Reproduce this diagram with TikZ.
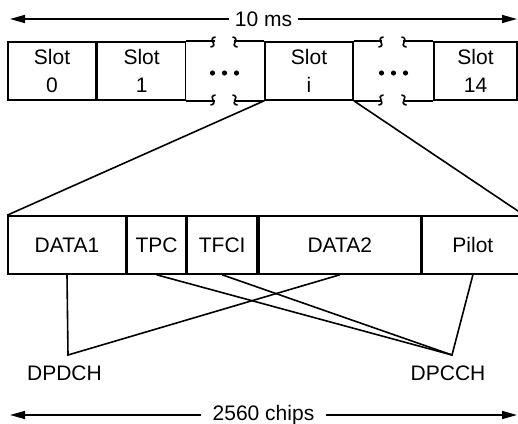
\documentclass[tikz,border=0pt]{standalone}
\usepackage{fontspec}
\setmainfont{Liberation Sans}
\usetikzlibrary{positioning,arrows.meta,calc}

\tikzset{
  slotbox/.style={draw,inner sep=0pt,minimum height=29pt,align=center,font=\fontsize{10.5}{14}\selectfont},
  fieldbox/.style={draw,inner sep=0pt,minimum height=29pt},
  span/.style={{Triangle[length=7.5pt,width=4pt]}-{Triangle[length=7.5pt,width=4pt]}},
  brkL/.pic={\draw (2.5,-5) .. controls (-1.5,-5) and (-1.5,-1) .. (0,0) .. controls (1.5,1) and (1.5,5) .. (-2.5,5);},
  brkR/.pic={\draw (-2.5,-5) .. controls (1.5,-5) and (1.5,-1) .. (0,0) .. controls (-1.5,1) and (-1.5,5) .. (2.5,5);}
}

\begin{document}
\begin{tikzpicture}[x=.5pt,y=-.5pt,line width=.8pt,every node/.style={font=\fontsize{10.5}{12}\selectfont}]
    \useasboundingbox (0,0) rectangle (518,423);
    % frame of slots
    \node[slotbox,minimum width=44pt] (s0) at (52,71) {Slot\\0};
    \node[slotbox,minimum width=44pt,right=0pt of s0] (s1) {Slot\\1};
    \node[slotbox,minimum width=44pt] (si) at (309,71) {Slot\\i};
    \node[slotbox,minimum width=41.5pt] (s14) at (475.5,71) {Slot\\14};
    \draw (s1.north east) -- +(29,0); \draw (si.north west) -- +(-30,0);
    \draw (s1.south east) -- +(29,0); \draw (si.south west) -- +(-30,0);
    \draw (si.north east) -- +(28,0); \draw (s14.north west) -- +(-30,0);
    \draw (si.south east) -- +(28,0); \draw (s14.south west) -- +(-30,0);
    \foreach \x in {213,381}{\foreach \y in {42,100}{\pic at (\x,\y) {brkL};}}
    \foreach \x in {235,404}{\foreach \y in {42,100}{\pic at (\x,\y) {brkR};}}
    \foreach \cx in {224.5,393.5}{\foreach \dx in {-12,0,12}{\fill (\cx+\dx,73) circle (1.3pt);}}
    % fields of one slot
    \node[fieldbox,minimum width=59pt] (d1) at (67,245) {DATA1};
    \node[fieldbox,minimum width=29pt,right=0pt of d1] (tpc) {TPC};
    \node[fieldbox,minimum width=35pt,right=0pt of tpc] (tfci) {TFCI};
    \node[fieldbox,minimum width=81pt,right=0pt of tfci] (d2) {DATA2};
    \node[fieldbox,minimum width=50.5pt,right=0pt of d2] (pil) {Pilot};
    \draw (si.south west) -- (d1.north west);
    \draw (si.south east) -- (pil.north east);
    % channels
    \coordinate (dpd) at (68,355); \coordinate (dpc) at (452,355);
    \draw (d1.south) -- (dpd) -- (d2.south);
    \draw (tpc.south) -- (dpc) -- (pil.south); \draw (tfci.south) -- (dpc);
    \node (dpdch) at (64.5,373) {DPDCH};
    \node (dpcch) at (448,373) {DPCCH};
    % durations
    \coordinate (msL) at (10,19); \coordinate (msR) at (517,19);
    \draw[span] (msL) -- node[fill=white,inner xsep=3pt] (ms) {10 ms} (msR);
    \coordinate (chL) at (10,415); \coordinate (chR) at (517,415);
    \draw[span] (chL) -- node[fill=white,inner xsep=6pt] (chips) {2560 chips} (chR);
  \end{tikzpicture}
\end{document}
